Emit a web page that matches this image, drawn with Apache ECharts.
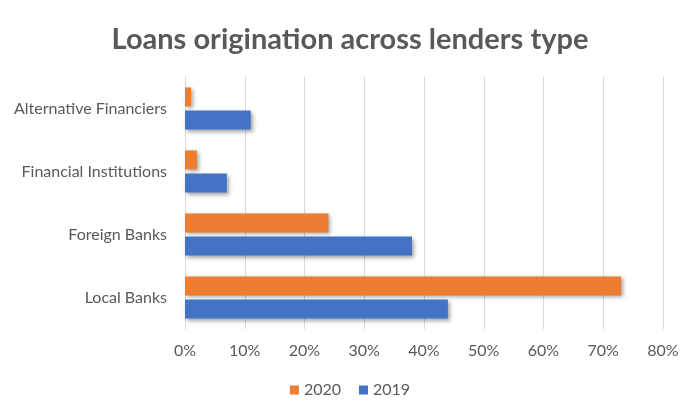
<!DOCTYPE html>
<html><head><meta charset="utf-8">
<script src="https://cdn.jsdelivr.net/npm/echarts@6/dist/echarts.min.js"></script>
<style>html,body{margin:0;padding:0;background:#fff}#c{width:700px;height:420px}</style>
</head><body><div id="c"></div>
<script>
const categories = ['Local Banks', 'Foreign Banks', 'Financial Institutions', 'Alternative Financiers'];
const values2020 = [73, 24, 2, 1];
const values2019 = [44, 38, 7, 11];
const xTicks = [0, 10, 20, 30, 40, 50, 60, 70, 80];

const chart = echarts.init(document.getElementById('c'));
const font = 'Lato, "Open Sans", sans-serif';
const shadow = {shadowColor: 'rgba(0,0,0,0.35)', shadowBlur: 4, shadowOffsetX: 2, shadowOffsetY: 2};
chart.setOption({
  animation: false,
  textStyle: {fontFamily: font},
  title: {
    text: 'Loans origination across lenders type',
    left: 'center', top: 20,
    textStyle: {fontFamily: font, fontSize: 29, fontWeight: 'bold', color: '#595959'}
  },
  legend: {
    bottom: 17, left: 'center',
    itemWidth: 9, itemHeight: 9, itemGap: 18,
    icon: 'rect',
    textStyle: {fontSize: 16, color: '#595959', fontFamily: font},
    data: ['2020', '2019']
  },
  grid: {left: 185, right: 37, top: 77, bottom: 91, containLabel: false},
  xAxis: {
    type: 'value', min: xTicks[0], max: xTicks[xTicks.length - 1], interval: 10,
    axisLine: {show: false}, axisTick: {show: false},
    splitLine: {lineStyle: {color: '#d9d9d9', width: 1}},
    axisLabel: {formatter: v => v + '%', color: '#595959', fontSize: 16, margin: 14, fontFamily: font}
  },
  yAxis: {
    type: 'category', data: categories,
    axisLine: {show: true, lineStyle: {color: '#d9d9d9'}}, axisTick: {show: false},
    axisLabel: {color: '#595959', fontSize: 16, margin: 18, fontFamily: font}
  },
  series: [
    {name: '2020', type: 'bar', data: values2020, barWidth: 19, barGap: '22%',
     itemStyle: Object.assign({color: '#ED7D31'}, shadow)},
    {name: '2019', type: 'bar', data: values2019, barWidth: 19, barGap: '22%',
     itemStyle: Object.assign({color: '#4472C4'}, shadow)}
  ]
});
</script></body></html>
